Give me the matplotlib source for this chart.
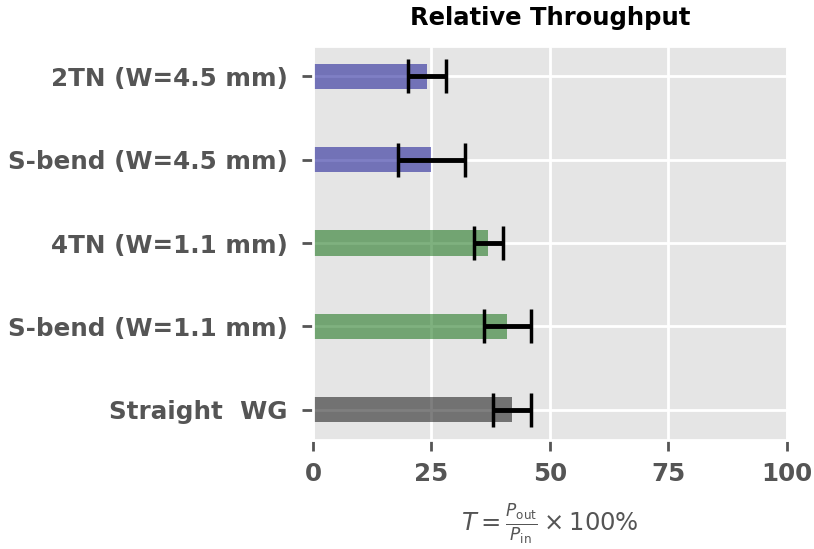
import matplotlib
matplotlib.use("Agg")
import matplotlib.pyplot as plt
import numpy as np

plt.style.use("ggplot")

# throughput per waveguide design, bottom to top
designs = ["Straight  WG", "S-bend (W=1.1 mm)", "4TN (W=1.1 mm)",
           "S-bend (W=4.5 mm)", "2TN (W=4.5 mm)"]
throughput = [42, 41, 37, 25, 24]
spread = [4, 5, 3, 7, 4]
colors = ["black", "darkgreen", "darkgreen", "darkblue", "darkblue"]

fig = plt.figure(figsize=(8.14, 5.49), dpi=100)
ax = fig.add_axes([0.3845, 0.1985, 0.9668 - 0.3845, 0.9162 - 0.1985])

y = np.arange(len(designs))
ax.barh(y, throughput, height=0.3, color=colors, alpha=0.5)
ax.errorbar(throughput, y, xerr=spread, fmt="none", ecolor="black",
            elinewidth=3.5, capsize=12, capthick=2.5)

ax.set_xlim(0, 100)
ax.set_ylim(-0.36, 4.36)
ax.set_xticks([0, 25, 50, 75, 100])
ax.set_yticks(y)
ax.set_yticklabels(designs)
ax.grid(True, color="white", linewidth=2)
for side in ax.spines.values():
    side.set_linewidth(2)

for lbl in ax.get_xticklabels() + ax.get_yticklabels():
    lbl.set_fontweight("bold")
    lbl.set_fontsize(17.7)
ax.tick_params(axis="both", length=8, width=2, pad=8, colors="#555555")
ax.tick_params(axis="y", pad=10)

ax.set_title("Relative Throughput", fontsize=17.5, fontweight="bold",
             color="black", pad=15)
ax.set_xlabel(r"$T = \frac{P_{\rm out}}{P_{\rm in}} \times 100\%$",
              fontsize=17.5, color="#555555", labelpad=12)

fig.savefig("out.png", dpi=100)
